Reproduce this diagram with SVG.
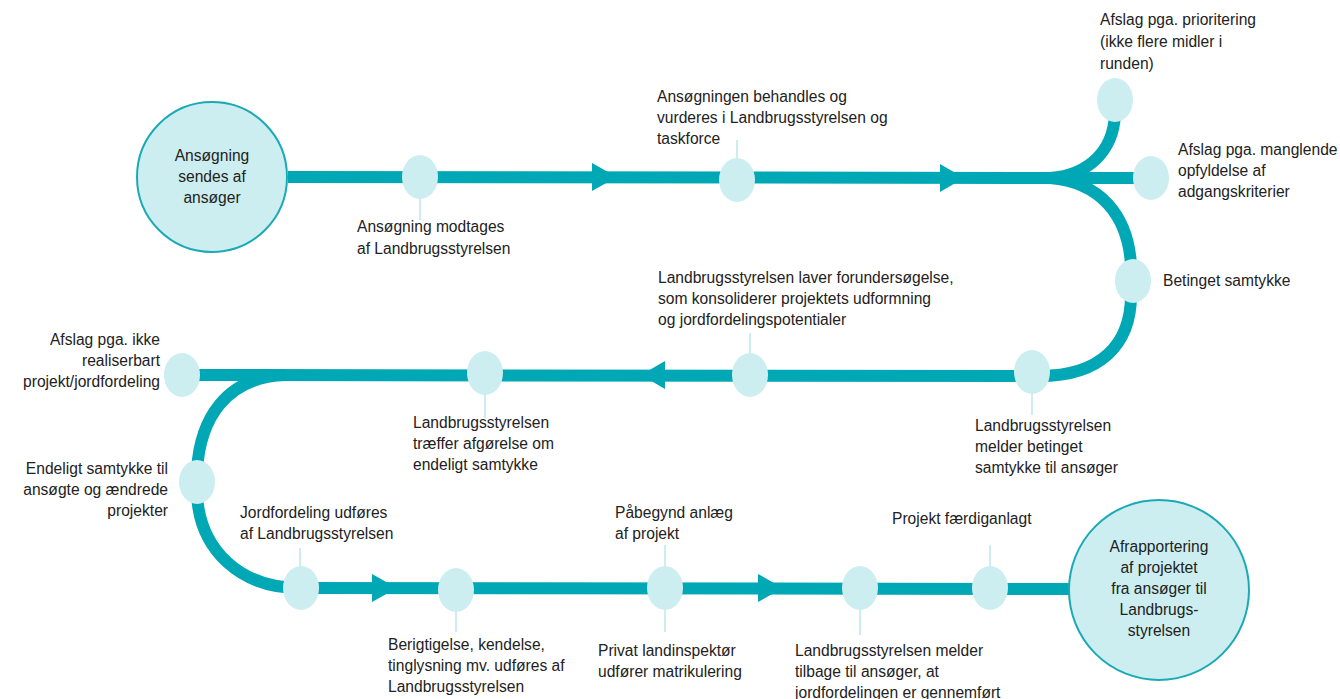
<svg xmlns="http://www.w3.org/2000/svg" width="1340" height="699" viewBox="0 0 1340 699">
<style>
.track{fill:none;stroke:#00A7B5;stroke-width:12}
.tick{stroke:#CCEEF0;stroke-width:2}
.arrow{fill:#00A7B5}
.dot{fill:#CCEEF0}
.big{fill:#CCEEF0;stroke:#1AAAB5;stroke-width:2}
text{font-family:"Liberation Sans",Arial,sans-serif;font-size:15.6px;fill:#222}
.c{text-anchor:middle}
.r{text-anchor:end}
</style>
<rect width="1340" height="699" fill="#fff"/>
<g id="connectors">
<path class="track" d="M288,177 L1070,178"/>
<path class="track" d="M1050,178 C1090,175 1113,150 1115,115"/>
<path class="track" d="M1050,178 L1140,178"/>
<path class="track" d="M1050,178 C1100,182 1128,215 1131,265"/>
<path class="track" d="M1131,295 C1131,345 1100,376 1040,376"/>
<path class="track" d="M1045,376 L182,375"/>
<path class="track" d="M285,375 C225,377 200,420 197,470"/>
<path class="track" d="M197,495 C200,550 240,588 300,588"/>
<path class="track" d="M295,588 L1075,589"/>
<polygon class="arrow" points="592,163 617,177 592,191"/>
<polygon class="arrow" points="940,164 964,178 940,192"/>
<polygon class="arrow" points="665,361 641,375 665,389"/>
<polygon class="arrow" points="372,574 397,588 372,602"/>
<polygon class="arrow" points="758,574 783,588 758,602"/>
<line class="tick" x1="420" y1="195" x2="420" y2="220"/>
<line class="tick" x1="737" y1="162" x2="737" y2="140"/>
<line class="tick" x1="1032" y1="390" x2="1032" y2="415"/>
<line class="tick" x1="750" y1="358" x2="750" y2="333"/>
<line class="tick" x1="485" y1="392" x2="485" y2="418"/>
<line class="tick" x1="300" y1="570" x2="300" y2="548"/>
<line class="tick" x1="456" y1="606" x2="456" y2="632"/>
<line class="tick" x1="665" y1="570" x2="665" y2="545"/>
<line class="tick" x1="665" y1="606" x2="665" y2="632"/>
<line class="tick" x1="860" y1="606" x2="860" y2="635"/>
<line class="tick" x1="990" y1="570" x2="990" y2="545"/>
</g>
<g id="n-start"><circle class="big" cx="212" cy="177" r="75"/>
<text class="c" x="212" y="161">Ansøgning</text><text class="c" x="212" y="182">sendes af</text><text class="c" x="212" y="203">ansøger</text></g>
<g id="n-modtages"><ellipse class="dot" cx="420" cy="177" rx="18" ry="22"/>
<text x="357" y="232">Ansøgning modtages</text><text x="357" y="254">af Landbrugsstyrelsen</text></g>
<g id="n-behandles"><ellipse class="dot" cx="737" cy="180" rx="18" ry="22"/>
<text x="657" y="102">Ansøgningen behandles og</text><text x="657" y="123">vurderes i Landbrugsstyrelsen og</text><text x="657" y="144">taskforce</text></g>
<g id="n-prioritering"><ellipse class="dot" cx="1115" cy="100" rx="18" ry="22"/>
<text x="1100" y="25">Afslag pga. prioritering</text><text x="1100" y="47">(ikke flere midler i</text><text x="1100" y="69">runden)</text></g>
<g id="n-adgang"><ellipse class="dot" cx="1151" cy="178" rx="18" ry="22"/>
<text x="1178" y="155">Afslag pga. manglende</text><text x="1178" y="176">opfyldelse af</text><text x="1178" y="197">adgangskriterier</text></g>
<g id="n-betinget"><ellipse class="dot" cx="1133" cy="281" rx="18" ry="22"/>
<text x="1163" y="286">Betinget samtykke</text></g>
<g id="n-melder"><ellipse class="dot" cx="1032" cy="372" rx="18" ry="22"/>
<text x="975" y="431">Landbrugsstyrelsen</text><text x="975" y="452">melder betinget</text><text x="975" y="473">samtykke til ansøger</text></g>
<g id="n-forunders"><ellipse class="dot" cx="750" cy="375" rx="18" ry="22"/>
<text x="658" y="283">Landbrugsstyrelsen laver forundersøgelse,</text><text x="658" y="304">som konsoliderer projektets udformning</text><text x="658" y="325">og jordfordelingspotentialer</text></g>
<g id="n-afgoerelse"><ellipse class="dot" cx="485" cy="373" rx="18" ry="22"/>
<text x="413" y="428">Landbrugsstyrelsen</text><text x="413" y="449">træffer afgørelse om</text><text x="413" y="470">endeligt samtykke</text></g>
<g id="n-ikke-realiserbart"><ellipse class="dot" cx="182" cy="375" rx="18" ry="22"/>
<text class="r" x="160" y="345">Afslag pga. ikke</text><text class="r" x="160" y="366">realiserbart</text><text class="r" x="160" y="387">projekt/jordfordeling</text></g>
<g id="n-endeligt"><ellipse class="dot" cx="197" cy="482" rx="18" ry="22"/>
<text class="r" x="168" y="474">Endeligt samtykke til</text><text class="r" x="168" y="495">ansøgte og ændrede</text><text class="r" x="168" y="516">projekter</text></g>
<g id="n-jordfordeling"><ellipse class="dot" cx="301" cy="588" rx="18" ry="22"/>
<text x="240" y="518">Jordfordeling udføres</text><text x="240" y="539">af Landbrugsstyrelsen</text></g>
<g id="n-berigtigelse"><ellipse class="dot" cx="456" cy="590" rx="18" ry="22"/>
<text x="388" y="650">Berigtigelse, kendelse,</text><text x="388" y="671">tinglysning mv. udføres af</text><text x="388" y="692">Landbrugsstyrelsen</text></g>
<g id="n-paabegynd"><ellipse class="dot" cx="665" cy="588" rx="18" ry="22"/>
<text x="615" y="518">Påbegynd anlæg</text><text x="615" y="539">af projekt</text><text x="598" y="656">Privat landinspektør</text><text x="598" y="677">udfører matrikulering</text></g>
<g id="n-tilbage"><ellipse class="dot" cx="860" cy="588" rx="18" ry="22"/>
<text x="795" y="656">Landbrugsstyrelsen melder</text><text x="795" y="677">tilbage til ansøger, at</text><text x="795" y="698">jordfordelingen er gennemført</text></g>
<g id="n-faerdig"><ellipse class="dot" cx="990" cy="588" rx="18" ry="22"/>
<text x="892" y="524">Projekt færdiganlagt</text></g>
<g id="n-end"><circle class="big" cx="1159" cy="590" r="90"/>
<text class="c" x="1159" y="552">Afrapportering</text><text class="c" x="1159" y="573">af projektet</text><text class="c" x="1159" y="594">fra ansøger til</text><text class="c" x="1159" y="615">Landbrugs-</text><text class="c" x="1159" y="636">styrelsen</text></g>
</svg>
